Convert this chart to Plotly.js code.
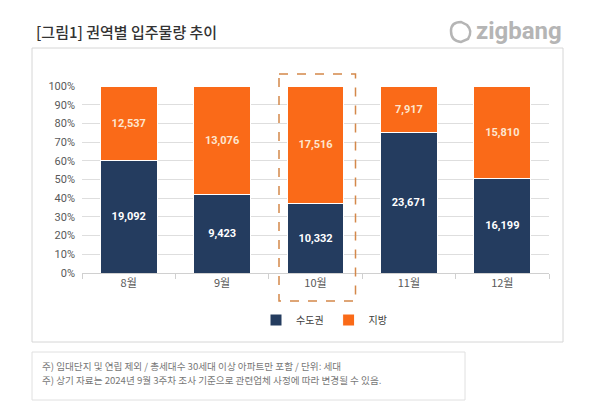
<!DOCTYPE html>
<html>
<head>
<meta charset="utf-8">
<script src="https://cdn.plot.ly/plotly-3.0.1.min.js"></script>
<style>html,body{margin:0;padding:0;background:#fff;}#chart{width:599px;height:413px;}</style>
</head>
<body>
<div id="chart"></div>
<script>
const months = ['8월', '9월', '10월', '11월', '12월'];
const capital = [19092, 9423, 10332, 23671, 16199];
const regional = [12537, 13076, 17516, 7917, 15810];
const seriesNames = ['수도권', '지방'];
const titleText = '[그림1] 권역별 입주물량 추이';
const notes = ['주) 임대단지 및 연립 제외 / 총세대수 30세대 이상 아파트만 포함 / 단위: 세대',
               '주) 상기 자료는 2024년 9월 3주차 조사 기준으로 관련업체 사정에 따라 변경될 수 있음.'];

const W = 599, H = 413;
const M = {l: 82, r: 50, t: 86, b: 140};
const PW = W - M.l - M.r, PH = H - M.t - M.b;
const px = x => (x - M.l) / PW;
const py = y => (H - M.b - y) / PH;
const fmt = v => v.toLocaleString('en-US');

const FONT = '"Noto Sans CJK KR", "Noto Sans", sans-serif';

const traces = [
  {type: 'bar', name: seriesNames[0], x: months, y: capital,
   marker: {color: '#243C5F', line: {color: '#ffffff', width: 1}},
   text: capital.map(fmt), textposition: 'inside', insidetextanchor: 'middle',
   textfont: {color: '#ffffff', size: 11, family: 'Roboto, sans-serif', weight: 'bold'},
   hoverinfo: 'skip'},
  {type: 'bar', name: seriesNames[1], x: months, y: regional,
   marker: {color: '#FA6A18', line: {color: '#ffffff', width: 1}},
   text: regional.map(fmt), textposition: 'inside', insidetextanchor: 'middle',
   textfont: {color: '#FDE6CF', size: 11, family: 'Roboto, sans-serif', weight: 'bold'},
   hoverinfo: 'skip'}
];

const boxLine = {color: '#d6d6d6', width: 1};
const layout = {
  width: W, height: H,
  margin: M,
  paper_bgcolor: '#ffffff', plot_bgcolor: '#ffffff',
  barmode: 'stack', barnorm: 'percent', bargap: 0.39,
  font: {family: FONT, color: '#595959', size: 11},
  showlegend: true,
  legend: {orientation: 'h', x: 0.5 + 9 / PW, xanchor: 'center', y: py(320), yanchor: 'middle',
           font: {size: 10, color: '#404040', family: FONT}, traceorder: 'normal',
           itemwidth: 30, bgcolor: 'rgba(0,0,0,0)'},
  xaxis: {type: 'category', tickson: 'boundaries', ticks: 'outside', ticklen: 5,
          tickcolor: '#d0d0d0', showline: true, linecolor: '#d0d0d0', linewidth: 1,
          showgrid: false, tickfont: {size: 11, color: '#595959'}, fixedrange: true},
  yaxis: {range: [0, 100], dtick: 10, ticksuffix: '%', showgrid: true, gridcolor: '#dedede',
          gridwidth: 1, zeroline: false, showline: false, ticks: '',
          tickfont: {size: 11, color: '#595959', family: 'Roboto, sans-serif'},
          ticklabelstandoff: 6, fixedrange: true},
  shapes: [
    {type: 'rect', xref: 'paper', yref: 'paper', x0: px(32), x1: px(563), y0: py(48), y1: py(342),
     line: boxLine, fillcolor: 'rgba(0,0,0,0)', layer: 'below'},
    {type: 'rect', xref: 'paper', yref: 'paper', x0: px(32), x1: px(465), y0: py(352), y1: py(400),
     line: {color: '#e0e0e0', width: 1}, fillcolor: 'rgba(0,0,0,0)', layer: 'below'},
    {type: 'rect', xref: 'paper', yref: 'paper', x0: px(279), x1: px(355.5), y0: py(74), y1: py(301),
     line: {color: '#D4884A', width: 1.5, dash: 'dash'}, fillcolor: 'rgba(0,0,0,0)', layer: 'above'},
    {type: 'path', xref: 'paper', yref: 'paper', layer: 'above',
     path: `M ${px(451)} ${py(31)} Q ${px(451)} ${py(22)} ${px(461)} ${py(22)} L ${px(467)} ${py(25)} Q ${px(473)} ${py(31)} ${px(468)} ${py(39)} L ${px(461)} ${py(42)} Q ${px(451)} ${py(41)} ${px(451)} ${py(31)} Z`,
     line: {color: '#b5b5b5', width: 2.5}, fillcolor: 'rgba(0,0,0,0)'}
  ],
  annotations: [
    {text: titleText, xref: 'paper', yref: 'paper', x: px(34), y: py(32), xanchor: 'left', yanchor: 'middle',
     showarrow: false, font: {size: 15, color: '#333333', family: FONT, weight: 500}},
    {text: 'zigbang', xref: 'paper', yref: 'paper', x: px(564), y: py(31), xanchor: 'right', yanchor: 'middle',
     showarrow: false, font: {size: 24, color: '#b5b5b5', family: 'Roboto, sans-serif', weight: 'bold'}},
    {text: notes[0], xref: 'paper', yref: 'paper', x: px(40), y: py(366), xanchor: 'left', yanchor: 'middle',
     showarrow: false, font: {size: 9.6, color: '#777777', family: FONT}},
    {text: notes[1], xref: 'paper', yref: 'paper', x: px(40), y: py(380), xanchor: 'left', yanchor: 'middle',
     showarrow: false, font: {size: 9.6, color: '#777777', family: FONT}}
  ]
};

Plotly.newPlot('chart', traces, layout, {displayModeBar: false, staticPlot: true});
</script>
</body>
</html>
